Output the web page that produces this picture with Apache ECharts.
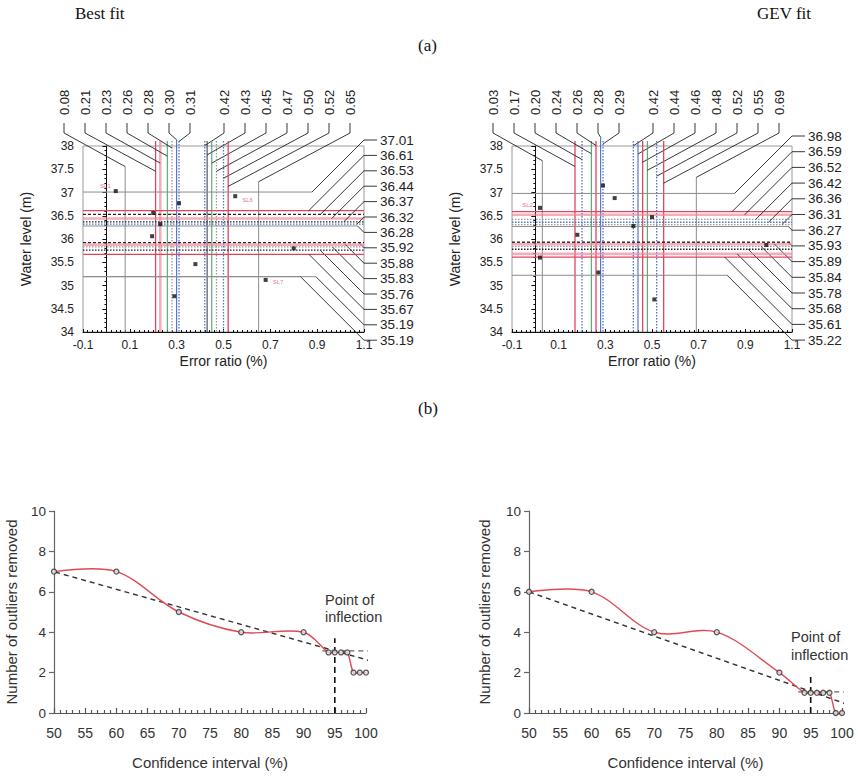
<!DOCTYPE html>
<html><head><meta charset="utf-8">
<script src="https://cdn.jsdelivr.net/npm/echarts@6/dist/echarts.min.js"></script>
<style>html,body{margin:0;padding:0;background:#fff}#c{width:858px;height:776px}</style>
</head><body><div id="c"></div>
<script>
// ---------------- data ----------------
const errorRange = [-0.1, 1.1];
const waterRange = [34, 38];
const ciRange = [50, 100];
const removedRange = [0, 10];

const bestFitErr = [0.08,0.21,0.23,0.26,0.28,0.30,0.31,0.42,0.43,0.45,0.47,0.50,0.52,0.65];
const bestFitLevel = [37.01,36.61,36.53,36.44,36.37,36.32,36.28,35.92,35.88,35.83,35.76,35.67,35.19,35.19];
const gevFitErr = [0.03,0.17,0.20,0.24,0.26,0.28,0.29,0.42,0.44,0.46,0.48,0.52,0.55,0.69];
const gevFitLevel = [36.98,36.59,36.52,36.42,36.36,36.31,36.27,35.93,35.89,35.84,35.78,35.68,35.61,35.22];

const bestPtsErr   = [0.04, 0.55, 0.31, 0.20, 0.23, 0.195, 0.80, 0.38, 0.68, 0.29];
const bestPtsLevel = [37.03, 36.92, 36.77, 36.56, 36.32, 36.06, 35.80, 35.46, 35.12, 34.77];
const bestPtsName  = ['SL1','SL6','','','','','','','SL7',''];
const gevPtsErr    = [0.02, 0.29, 0.34, 0.50, 0.42, 0.18, 0.99, 0.02, 0.27, 0.51];
const gevPtsLevel  = [36.67, 37.15, 36.88, 36.47, 36.28, 36.09, 35.87, 35.60, 35.28, 34.70];
const gevPtsName   = ['SL2','','','','','','','','',''];

const ciLevels = [50,60,70,80,90,94,95,96,97,98,99,100];
const bestRemoved = [7,7,5,4,4,3,3,3,3,2,2,2];
const gevCiLevels = [50,60,70,80,90,94,95,96,97,98,99,100];
const gevRemoved = [6,6,4,4,2,1,1,1,1,1,0,0];

const bestTrendX = [47.4, 100.5];   const bestTrendY = [7.22, 2.6];
const bestFlatX  = [93, 100.6];     const bestFlatY  = [3.08, 3.08];
const bestInflX  = [95, 95];        const bestInflY  = [0, 3.7];
const gevTrendX  = [50, 100.9];     const gevTrendY  = [6, 0.42];
const gevFlatX   = [93, 100.9];     const gevFlatY   = [1.05, 1.05];
const gevInflX   = [95, 95];        const gevInflY   = [0, 1.9];

// ---------------- styles ----------------
const LS = {
  grey:{c:'#8c8c8c',w:1},
  red:{c:'#e0455e',w:1.3},
  pink:{c:'rgba(238,130,150,0.65)',w:2.6},
  green:{c:'#3c9e58',w:1},
  blue:{c:'#3b5fc4',w:1},
  blueDot:{c:'#4f74cc',w:1.3,d:[1.5,1.5]},
  greyDot:{c:'#9a9a9a',w:1.3,d:[1.5,1.5]},
  blackDot:{c:'#222',w:1.3,d:[1.5,1.5]},
  blackDash:{c:'#222',w:1.3,d:[3,2]},
  dark:{c:'#333',w:1}
};
const bestErrStyle = ['grey','red','pink','green','greyDot','blue','blueDot','blueDot','dark','green','greyDot','blueDot','red','grey'];
const gevErrStyle  = ['grey','red','blueDot','green','red','blue','blueDot','blueDot','blue','red','green','blueDot','red','grey'];
const bestLvlStyle = ['grey','red','blackDash','pink','blackDot','blueDot','grey','blackDash','pink','greyDot','blackDot','red','grey','grey'];
const gevLvlStyle  = ['grey','red','pink','greyDot','blueDot','greyDot','grey','blackDash','pink','greyDot','blackDot','pink','red','grey'];

const SANS = '"Liberation Sans", Arial, sans-serif';
const SERIF = '"Liberation Serif", "Times New Roman", serif';

function topOffset(i){ return i < 7 ? -19 + 21*i : -6 + 21*i; }

function vRefSeries(gi, values, styles){
  return {
    type:'custom', xAxisIndex:gi, yAxisIndex:gi, clip:false, silent:true, z:3,
    data: values.map((v,i)=>[v,i]),
    renderItem(params, api){
      const cs = params.coordSys;
      const i = api.value(1);
      const px = api.coord([api.value(0), waterRange[0]])[0];
      const lx = cs.x + topOffset(i);
      const tickTop = cs.y - 23, tickBot = cs.y - 13;
      const endY = tickBot + 0.5*Math.abs(px - lx) + 3;
      const st = LS[styles[i]];
      const y1 = styles[i] === 'grey' ? endY : Math.min(endY, cs.y - 5);
      return {type:'group', children:[
        {type:'line', shape:{x1:px,y1:y1,x2:px,y2:cs.y+cs.height}, style:{stroke:st.c,lineWidth:st.w,lineDash:st.d||null}},
        {type:'polyline', shape:{points:[[lx,tickTop],[lx,tickBot],[px,endY]]}, style:{stroke:'#222',lineWidth:0.9,fill:null}},
        {type:'text', x:lx, y:tickTop-8, rotation:Math.PI/2,
         style:{text:values[i].toFixed(2), font:'13px '+SANS, fill:'#222', align:'left', verticalAlign:'middle'}}
      ]};
    }
  };
}

function hRefSeries(gi, values, styles, startOff, step){
  return {
    type:'custom', xAxisIndex:gi, yAxisIndex:gi, clip:false, silent:true, z:3,
    data: values.map((v,i)=>[i,v]),
    renderItem(params, api){
      const cs = params.coordSys;
      const i = api.value(0);
      const py = api.coord([errorRange[0], api.value(1)])[1];
      const rx = cs.x + cs.width;
      const ly = cs.y + startOff + i*step;
      const endX = rx - Math.abs(ly - py);
      const st = LS[styles[i]];
      const x2 = styles[i] === 'grey' ? endX : rx;
      return {type:'group', children:[
        {type:'line', shape:{x1:cs.x,y1:py,x2:x2,y2:py}, style:{stroke:st.c,lineWidth:st.w,lineDash:st.d||null}},
        {type:'polyline', shape:{points:[[rx+13,ly],[rx,ly],[endX,py]]}, style:{stroke:'#222',lineWidth:0.9,fill:null}},
        {type:'text', x:rx+16, y:ly,
         style:{text:values[i].toFixed(2), font:'13.5px '+SANS, fill:'#222', align:'left', verticalAlign:'middle'}}
      ]};
    }
  };
}

function ptsSeries(gi, xs, ys, names, labelPos){
  return {
    type:'scatter', xAxisIndex:gi, yAxisIndex:gi, symbol:'rect', symbolSize:4, z:5,
    itemStyle:{color:'#111'}, silent:true,
    data: xs.map((x,i)=>{
      const d = {value:[x, ys[i]]};
      if (names[i]) d.label = Object.assign({show:true, formatter:names[i], color:'#e0506a', fontSize:6, fontFamily:SANS}, labelPos[names[i]]);
      return d;
    })
  };
}

function errAxis(gi){
  return {type:'value', gridIndex:gi, min:errorRange[0], max:errorRange[1], interval:0.2,
    name:'Error ratio (%)', nameLocation:'middle', nameGap:22, nameMoveOverlap:false,
    nameTextStyle:{fontSize:14, color:'#222', fontFamily:SANS},
    axisLine:{lineStyle:{color:'#111', width:1}},
    axisTick:{show:true, length:3, inside:true, lineStyle:{color:'#111'}},
    minorTick:{show:true, splitNumber:10, length:2, lineStyle:{color:'#111'}},
    axisLabel:{fontSize:12, color:'#222', margin:7, fontFamily:SANS, showMinLabel:true, showMaxLabel:true,
      formatter:v=>String(Math.round(v*10)/10)},
    splitLine:{show:false}};
}
function lvlAxis(gi){
  return {type:'value', gridIndex:gi, min:waterRange[0], max:waterRange[1], interval:0.5,
    name:'Water level (m)', nameLocation:'middle', nameGap:50, nameMoveOverlap:false,
    nameTextStyle:{fontSize:14, color:'#222', fontFamily:SANS},
    axisLine:{lineStyle:{color:'#111', width:1}},
    axisTick:{show:true, length:4, lineStyle:{color:'#111'}},
    minorTick:{show:true, splitNumber:5, length:2, lineStyle:{color:'#111'}},
    axisLabel:{fontSize:12, color:'#222', margin:9, fontFamily:SANS, showMinLabel:true, showMaxLabel:true},
    splitLine:{show:false}};
}
function ciAxis(gi){
  return {type:'value', gridIndex:gi, min:ciRange[0], max:ciRange[1], interval:5,
    name:'Confidence interval (%)', nameLocation:'middle', nameGap:42, nameMoveOverlap:false,
    nameTextStyle:{fontSize:15, color:'#333', fontFamily:SANS},
    axisLine:{lineStyle:{color:'#555', width:1.2}},
    axisTick:{show:true, length:5, inside:true, lineStyle:{color:'#555', width:1.2}},
    minorTick:{show:true, splitNumber:5, length:3, lineStyle:{color:'#555', width:1.2}},
    axisLabel:{fontSize:14, color:'#333', margin:13, fontFamily:SANS, showMinLabel:true, showMaxLabel:true},
    splitLine:{show:false}};
}
function remAxis(gi, gap){
  return {type:'value', gridIndex:gi, min:removedRange[0], max:removedRange[1], interval:2,
    name:'Number of outliers removed', nameLocation:'middle', nameGap:gap, nameMoveOverlap:false,
    nameTextStyle:{fontSize:15, color:'#333', fontFamily:SANS},
    axisLine:{show:true, lineStyle:{color:'#666', width:1.2}},
    axisTick:{show:true, length:5, lineStyle:{color:'#666', width:1.2}},
    axisLabel:{fontSize:13.5, color:'#333', margin:8, fontFamily:SANS},
    splitLine:{show:false}};
}

function zip(xs, ys){ return xs.map((x,i)=>[x, ys[i]]); }

// smooth (Excel-like) curve through the data points, positioned by the axes
function curveSeries(gi, xs, ys){
  return {type:'custom', xAxisIndex:gi, yAxisIndex:gi, clip:false, silent:true, z:4,
    data: zip(xs, ys),
    renderItem(params, api){
      if (params.dataIndex !== 0) return null;
      const pts = xs.map((x,i)=>api.coord([x, ys[i]]));
      return {type:'polyline', shape:{points:pts, smooth:0.34}, style:{stroke:'#e04a55', lineWidth:1.4, fill:null}};
    }};
}
function markerSeries(gi, xs, ys){
  return {type:'scatter', xAxisIndex:gi, yAxisIndex:gi, data:zip(xs,ys), z:6, silent:true,
    symbol:'circle', symbolSize:5,
    itemStyle:{color:'#e2e2e2', borderColor:'#333', borderWidth:1.3}};
}
function dashSeries(gi, xs, ys, color, width, dash){
  return {type:'line', xAxisIndex:gi, yAxisIndex:gi, data:zip(xs,ys), clip:false, symbol:'none', silent:true, z:3,
    lineStyle:{color:color, width:width, type:dash}};
}

const grids = [
  {left:83, top:146, width:281, height:186},
  {left:512, top:146, width:280, height:186},
  {left:54, top:511, width:312, height:202},
  {left:529, top:511, width:313, height:202}
].map((g,i)=>Object.assign({outerBoundsMode:'none', containLabel:false}, g,
   i < 2 ? {show:true, borderColor:'#9a9a9a', borderWidth:1} : {show:false}));

const option = {
  backgroundColor:'#fff',
  animation:false,
  grid: grids,
  xAxis:[errAxis(0), errAxis(1), ciAxis(2), ciAxis(3)],
  yAxis:[lvlAxis(0), lvlAxis(1), remAxis(2, 35), remAxis(3, 37)],
  graphic:[
    {type:'text', left:75, top:5, style:{text:'Best fit', font:'17px '+SERIF, fill:'#111'}},
    {type:'text', left:757, top:5, style:{text:'GEV fit', font:'17px '+SERIF, fill:'#111'}},
    {type:'text', left:418, top:37, style:{text:'(a)', font:'17px '+SERIF, fill:'#111'}},
    {type:'text', left:418, top:400, style:{text:'(b)', font:'17px '+SERIF, fill:'#111'}},
    {type:'text', left:325, top:591, style:{text:'Point of\ninflection', font:'14.5px '+SANS, fill:'#333', lineHeight:17}},
    {type:'text', left:791, top:628, style:{text:'Point of\ninflection', font:'14.5px '+SANS, fill:'#333', lineHeight:18}}
  ],
  series:[
    vRefSeries(0, bestFitErr, bestErrStyle),
    hRefSeries(0, bestFitLevel, bestLvlStyle, -6, 15.4),
    ptsSeries(0, bestPtsErr, bestPtsLevel, bestPtsName, {
      SL1:{position:'left', offset:[2,-5]}, SL6:{position:'right', offset:[0,4]}, SL7:{position:'right', offset:[0,2]}}),
    vRefSeries(1, gevFitErr, gevErrStyle),
    hRefSeries(1, gevFitLevel, gevLvlStyle, -10, 15.7),
    ptsSeries(1, gevPtsErr, gevPtsLevel, gevPtsName, {SL2:{position:'left', offset:[0,-3]}}),

    dashSeries(2, bestTrendX, bestTrendY, '#333', 1.4, [5,4]),
    dashSeries(2, bestFlatX, bestFlatY, '#666', 1.2, [5,4]),
    dashSeries(2, bestInflX, bestInflY, '#111', 1.6, [6,4]),
    curveSeries(2, ciLevels, bestRemoved),
    markerSeries(2, ciLevels, bestRemoved),

    dashSeries(3, gevTrendX, gevTrendY, '#333', 1.4, [5,4]),
    dashSeries(3, gevFlatX, gevFlatY, '#666', 1.2, [5,4]),
    dashSeries(3, gevInflX, gevInflY, '#111', 1.6, [6,4]),
    curveSeries(3, gevCiLevels, gevRemoved),
    markerSeries(3, gevCiLevels, gevRemoved)
  ]
};

const chart = echarts.init(document.getElementById('c'), null, {renderer:'svg'});
chart.setOption(option);
</script></body></html>
